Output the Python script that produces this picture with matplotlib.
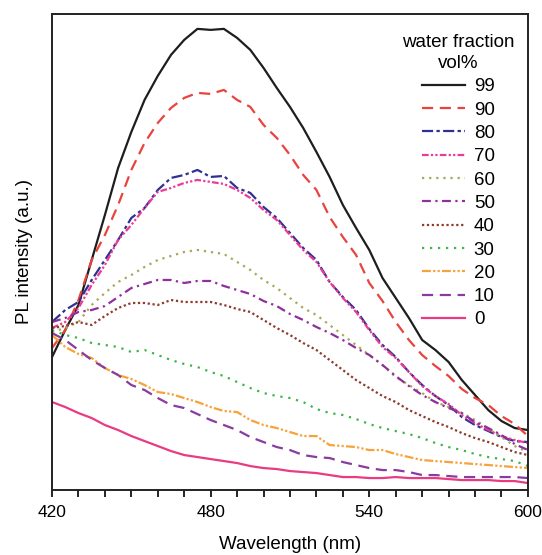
import numpy as np
import matplotlib.pyplot as plt

plt.rcParams['font.family'] = ['Liberation Sans', 'DejaVu Sans']

wavelength = np.arange(420, 601, 5)

# PL intensity (a.u.) for each water fraction, every 5 nm
w99 = [133, 160, 185, 230, 275, 322, 358, 390, 414, 435, 450, 461, 460, 461, 452, 440, 422,
       402, 383, 362, 338, 313, 285, 262, 240, 212, 192, 172, 150, 140, 128, 110, 95, 80, 69, 62, 60]
w90 = [142, 160, 190, 230, 255, 285, 320, 347, 367, 382, 392, 397, 396, 400, 390, 383, 365,
       352, 335, 315, 300, 273, 253, 235, 207, 189, 168, 150, 135, 124, 114, 101, 92, 85, 74, 66, 54]
w80 = [168, 180, 188, 210, 230, 250, 272, 282, 300, 312, 315, 320, 313, 314, 302, 297, 283,
       272, 257, 242, 230, 208, 193, 180, 161, 145, 133, 118, 105, 94, 85, 73, 65, 59, 53, 49, 48]
w70 = [162, 168, 182, 205, 225, 250, 265, 282, 298, 302, 307, 310, 308, 306, 300, 292, 280,
       270, 255, 240, 228, 208, 192, 178, 160, 143, 132, 118, 104, 94, 86, 75, 67, 60, 54, 50, 47]
w60 = [158, 162, 168, 185, 197, 208, 215, 223, 230, 234, 238, 240, 238, 236, 228, 220, 210,
       202, 192, 182, 175, 165, 155, 145, 135, 125, 113, 105, 97, 88, 83, 77, 70, 62, 53, 44, 38]
w50 = [168, 172, 178, 180, 184, 193, 202, 206, 210, 210, 207, 209, 209, 204, 200, 196, 189,
       184, 176, 170, 163, 157, 150, 142, 135, 125, 114, 104, 95, 88, 82, 77, 68, 62, 55, 46, 40]
w40 = [162, 164, 168, 165, 174, 182, 187, 187, 185, 190, 188, 188, 188, 185, 181, 178, 170,
       162, 155, 147, 140, 130, 120, 110, 102, 94, 88, 80, 74, 68, 63, 57, 52, 48, 43, 38, 35]
w30 = [160, 155, 152, 147, 145, 143, 138, 140, 135, 130, 126, 123, 118, 114, 108, 102, 97,
       94, 92, 88, 81, 77, 75, 71, 66, 62, 59, 56, 52, 47, 43, 40, 36, 33, 31, 29, 24]
w20 = [155, 143, 136, 132, 122, 115, 111, 105, 98, 96, 92, 88, 83, 79, 78, 70, 65,
       62, 58, 54, 54, 45, 44, 43, 40, 40, 36, 33, 30, 29, 28, 27, 26, 25, 24, 23, 22]
w10 = [157, 150, 140, 130, 122, 115, 105, 100, 92, 85, 82, 76, 70, 65, 60, 53, 48,
       43, 40, 35, 33, 32, 28, 25, 22, 20, 20, 18, 15, 15, 14, 13, 13, 13, 13, 13, 12]
w0 = [88, 83, 77, 72, 65, 60, 54, 49, 44, 39, 35, 33, 31, 29, 27, 24, 22,
      21, 19, 18, 17, 15, 13, 13, 12, 12, 13, 12, 12, 12, 11, 10, 10, 10, 9, 9, 7]

labels = ['99', '90', '80', '70', '60', '50', '40', '30', '20', '10', '0']
series = [w99, w90, w80, w70, w60, w50, w40, w30, w20, w10, w0]
colors = ['#1e1e1e', '#e8433c', '#2e3192', '#ec3a96', '#a9a855', '#8e2f9c',
          '#8c3b2c', '#3db54a', '#f7a23a', '#8a3b9e', '#ea3a82']
styles = ['-', (0, (5, 3)), (0, (5, 1.5, 1.5, 1.5)), (0, (3, 1, 1, 1, 1, 1)), (0, (1, 2.2)),
          (0, (4, 2, 1, 2)), (0, (1, 1.2)), (0, (1, 2.6)), (0, (4, 1, 1, 1, 1, 1)),
          (0, (5, 3)), '-']

fs = 13.5

fig = plt.figure(figsize=(5.42, 5.55), dpi=100)
ax = fig.add_axes([0.096, 0.117, 0.878, 0.858])

for y, lab, c, ls in zip(series, labels, colors, styles):
    ax.plot(wavelength, y, color=c, linestyle=ls, linewidth=1.6, label=lab)

ax.set_xlim(420, 600)
ax.set_ylim(0, 476)
ax.set_xticks([420, 480, 540, 600])
ax.set_xticks(np.arange(420, 601, 10), minor=True)
ax.set_yticks([])
ax.tick_params(axis='x', which='both', direction='out', length=5, width=1.2, labelsize=12.5, pad=6)
for s in ax.spines.values():
    s.set_linewidth(1.4)
    s.set_color('#222222')

ax.set_xlabel('Wavelength (nm)', fontsize=fs, labelpad=11)
ax.set_ylabel('PL intensity (a.u.)', fontsize=fs, labelpad=14)

leg = ax.legend(title='water fraction\nvol%', frameon=False, fontsize=fs, title_fontsize=fs,
                loc='upper right', bbox_to_anchor=(1.0, 0.985), handlelength=2.3,
                labelspacing=0.33, handletextpad=0.45, borderaxespad=0.3)
leg.get_title().set_multialignment('center')
leg.get_title().set_linespacing(1.3)

fig.savefig('out.png', dpi=100)
